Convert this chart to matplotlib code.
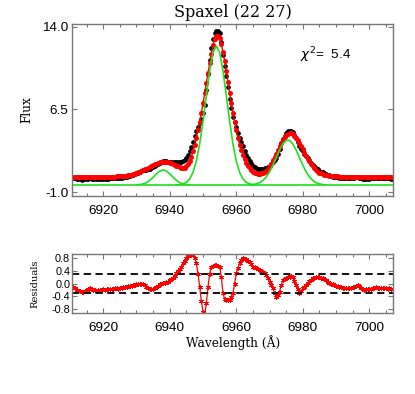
import numpy as np
import matplotlib
matplotlib.use('Agg')
import matplotlib.pyplot as plt
from matplotlib.ticker import FixedLocator, MultipleLocator

# wavelength grid (Angstrom), 0.5 A sampling
WAVE = np.arange(6911, 7007.5, 0.5)

# observed flux (black dots), two samples per line: x.0, x.5
FLUX_OBS = [
	0.31, 0.26,  0.21, 0.18,  0.17, 0.15,  0.16, 0.19,  0.21, 0.24,  # 6911-6915
	0.26, 0.24,  0.22, 0.20,  0.19, 0.20,  0.21, 0.22,  0.23, 0.22,  # 6916-6920
	0.23, 0.24,  0.25, 0.25,  0.26, 0.27,  0.28, 0.27,  0.30, 0.32,  # 6921-6925
	0.34, 0.36,  0.40, 0.44,  0.48, 0.53,  0.59, 0.65,  0.72, 0.79,  # 6926-6930
	0.86, 0.93,  0.98, 1.02,  1.04, 1.08,  1.13, 1.19,  1.28, 1.38,  # 6931-6935
	1.48, 1.58,  1.68, 1.75,  1.79, 1.80,  1.81, 1.77,  1.78, 1.75,  # 6936-6940
	1.74, 1.73,  1.73, 1.73,  1.73, 1.74,  1.80, 1.92,  2.13, 2.39,  # 6941-6945
	2.73, 3.11,  3.58, 4.08,  4.57, 4.95,  5.30, 5.65,  6.17, 6.95,  # 6946-6950
	8.30, 9.72,  11.00, 12.05,  12.85, 13.42,  13.62, 13.65,  13.40, 12.65,  # 6951-6955
	11.40, 10.42,  9.49, 8.50,  7.49, 6.63,  5.85, 5.35,  4.91, 4.40,  # 6956-6960
	3.92, 3.54,  3.18, 2.76,  2.40, 2.10,  1.87, 1.61,  1.37, 1.27,  # 6961-6965
	1.19, 1.14,  1.10, 1.10,  1.12, 1.17,  1.23, 1.30,  1.41, 1.55,  # 6966-6970
	1.75, 1.92,  2.09, 2.46,  2.90, 3.42,  3.86, 4.14,  4.36, 4.51,  # 6971-6975
	4.58, 4.58,  4.45, 4.20,  3.90, 3.55,  3.17, 2.94,  2.75, 2.50,  # 6976-6980
	2.26, 2.06,  1.88, 1.68,  1.51, 1.34,  1.20, 1.08,  0.97, 0.88,  # 6981-6985
	0.80, 0.72,  0.65, 0.58,  0.52, 0.47,  0.42, 0.39,  0.36, 0.34,  # 6986-6990
	0.32, 0.30,  0.29, 0.27,  0.26, 0.27,  0.27, 0.28,  0.29, 0.31,  # 6991-6995
	0.34, 0.36,  0.33, 0.27,  0.23, 0.22,  0.23, 0.24,  0.23, 0.25,  # 6996-7000
	0.26, 0.28,  0.29, 0.28,  0.27, 0.26,  0.26, 0.27,  0.26, 0.25,  # 7001-7005
	0.26, 0.24,  0.23,  # 7006-7007
]

# total fit (red dots)
FLUX_FIT = [
	0.41, 0.41,  0.41, 0.41,  0.41, 0.41,  0.41, 0.41,  0.41, 0.41,  # 6911-6915
	0.41, 0.41,  0.41, 0.41,  0.41, 0.41,  0.41, 0.41,  0.41, 0.41,  # 6916-6920
	0.41, 0.41,  0.42, 0.42,  0.42, 0.42,  0.43, 0.43,  0.44, 0.45,  # 6921-6925
	0.46, 0.48,  0.50, 0.53,  0.56, 0.60,  0.64, 0.69,  0.74, 0.80,  # 6926-6930
	0.86, 0.93,  1.00, 1.07,  1.14, 1.21,  1.29, 1.37,  1.45, 1.53,  # 6931-6935
	1.60, 1.66,  1.71, 1.75,  1.77, 1.77,  1.75, 1.72,  1.68, 1.62,  # 6936-6940
	1.56, 1.49,  1.42, 1.35,  1.28, 1.22,  1.18, 1.22,  1.35, 1.55,  # 6941-6945
	1.85, 2.22,  2.70, 3.28,  3.95, 4.65,  5.40, 6.20,  7.05, 7.95,  # 6946-6950
	8.90, 9.82,  10.70, 11.55,  12.30, 12.85,  13.15, 13.15,  12.95, 12.45,  # 6951-6955
	11.70, 10.90,  10.00, 9.00,  8.00, 7.05,  6.15, 5.35,  4.60, 3.92,  # 6956-6960
	3.30, 2.82,  2.40, 1.99,  1.65, 1.40,  1.20, 1.01,  0.85, 0.77,  # 6961-6965
	0.72, 0.69,  0.68, 0.70,  0.76, 0.85,  0.97, 1.14,  1.35, 1.60,  # 6966-6970
	1.90, 2.20,  2.50, 2.82,  3.15, 3.47,  3.75, 4.00,  4.20, 4.32,  # 6971-6975
	4.37, 4.34,  4.25, 4.12,  3.95, 3.72,  3.45, 3.18,  2.90, 2.60,  # 6976-6980
	2.30, 2.04,  1.80, 1.56,  1.35, 1.16,  1.00, 0.88,  0.78, 0.70,  # 6981-6985
	0.64, 0.59,  0.55, 0.52,  0.49, 0.47,  0.45, 0.44,  0.43, 0.43,  # 6986-6990
	0.42, 0.42,  0.42, 0.41,  0.41, 0.41,  0.41, 0.41,  0.41, 0.41,  # 6991-6995
	0.41, 0.41,  0.41, 0.41,  0.41, 0.41,  0.41, 0.41,  0.41, 0.41,  # 6996-7000
	0.41, 0.41,  0.41, 0.41,  0.41, 0.41,  0.41, 0.41,  0.41, 0.41,  # 7001-7005
	0.41, 0.41,  0.41,  # 7006-7007
]

# residuals (bottom panel)
RESID = [
	-0.10, -0.15,  -0.20, -0.23,  -0.24, -0.26,  -0.25, -0.22,  -0.20, -0.17,  # 6911-6915
	-0.15, -0.17,  -0.19, -0.21,  -0.22, -0.21,  -0.20, -0.19,  -0.18, -0.19,  # 6916-6920
	-0.18, -0.17,  -0.17, -0.17,  -0.16, -0.15,  -0.15, -0.16,  -0.14, -0.13,  # 6921-6925
	-0.12, -0.12,  -0.10, -0.09,  -0.08, -0.07,  -0.05, -0.04,  -0.02, -0.01,  # 6926-6930
	0.00, 0.00,  -0.02, -0.05,  -0.10, -0.13,  -0.16, -0.18,  -0.17, -0.15,  # 6931-6935
	-0.12, -0.08,  -0.03, 0.00,  0.02, 0.03,  0.06, 0.05,  0.10, 0.13,  # 6936-6940
	0.18, 0.24,  0.31, 0.38,  0.45, 0.52,  0.62, 0.70,  0.78, 0.84,  # 6941-6945
	0.88, 0.89,  0.88, 0.80,  0.62, 0.30,  -0.10, -0.55,  -0.88, -1.00,  # 6946-6950
	-0.60, -0.10,  0.30, 0.50,  0.55, 0.57,  0.57, 0.55,  0.52, 0.20,  # 6951-6955
	-0.30, -0.48,  -0.51, -0.50,  -0.51, -0.42,  -0.30, 0.00,  0.31, 0.48,  # 6956-6960
	0.62, 0.72,  0.78, 0.77,  0.75, 0.70,  0.67, 0.60,  0.52, 0.50,  # 6961-6965
	0.47, 0.45,  0.42, 0.40,  0.36, 0.32,  0.26, 0.16,  0.06, -0.05,  # 6966-6970
	-0.15, -0.28,  -0.41, -0.36,  -0.25, -0.05,  0.11, 0.14,  0.16, 0.19,  # 6971-6975
	0.21, 0.24,  0.20, 0.08,  -0.05, -0.17,  -0.28, -0.24,  -0.15, -0.10,  # 6976-6980
	-0.04, 0.02,  0.08, 0.12,  0.16, 0.18,  0.20, 0.20,  0.19, 0.18,  # 6981-6985
	0.16, 0.13,  0.10, 0.06,  0.03, 0.00,  -0.03, -0.05,  -0.07, -0.09,  # 6986-6990
	-0.10, -0.12,  -0.13, -0.14,  -0.15, -0.14,  -0.14, -0.13,  -0.12, -0.10,  # 6991-6995
	-0.07, -0.05,  -0.08, -0.14,  -0.18, -0.19,  -0.18, -0.17,  -0.18, -0.16,  # 6996-7000
	-0.15, -0.13,  -0.12, -0.13,  -0.14, -0.15,  -0.15, -0.14,  -0.15, -0.16,  # 7001-7005
	-0.15, -0.17,  -0.18,  # 7006-7007
]

# single gaussian components (green)
GREEN_BASE = -0.34
COMP1_WAVE = np.arange(6930, 6947, 1.0)
COMP1 = [-0.33, -0.30, -0.25, -0.13, 0.08, 0.36, 0.67, 0.92, 1.02,
	0.92, 0.67, 0.36, 0.08, -0.13, -0.25, -0.30, -0.33]
COMP2_WAVE = np.arange(6942, 6967, 1.0)
COMP2 = [-0.33, -0.31, -0.24, -0.10, 0.21, 0.81, 1.83, 3.38, 5.43, 7.78,
	10.03, 11.66, 12.26, 11.66, 10.03, 7.78, 5.43, 3.38, 1.83, 0.81,
	0.21, -0.10, -0.24, -0.31, -0.33]
COMP3_WAVE = np.arange(6964, 6988, 1.0)
COMP3 = [-0.32, -0.30, -0.24, -0.13, 0.07, 0.39, 0.85, 1.45, 2.13, 2.82,
	3.38, 3.70, 3.70, 3.38, 2.82, 2.13, 1.45, 0.85, 0.39, 0.07,
	-0.13, -0.24, -0.30, -0.32]

CHI2 = 5.4
RESID_LIMIT = 0.3
SPAXEL = (22, 27)

XLIM = (6910.7, 7007.2)
GREEN = '#1ee01e'
FRAME = '#777777'
SANS = 'Liberation Sans'
SERIF = 'DejaVu Serif'


def style_axes(ax, labelsize, ypad):
	for sp in ax.spines.values():
		sp.set_color(FRAME)
		sp.set_linewidth(1.0)
	ax.set_xlim(*XLIM)
	ax.xaxis.set_major_locator(MultipleLocator(20))
	ax.xaxis.set_minor_locator(MultipleLocator(5))
	ax.tick_params(which='both', direction='in', top=True, right=True,
		color=FRAME, width=0.8)
	ax.tick_params(which='major', length=3.5)
	ax.tick_params(which='minor', length=2)
	ax.tick_params(axis='x', labelsize=9.7, pad=6.5)
	ax.tick_params(axis='y', labelsize=labelsize, pad=ypad)
	for lab in ax.get_xticklabels() + ax.get_yticklabels():
		lab.set_fontfamily(SANS)


def make_plot():
	fig = plt.figure(figsize=(4.15, 3.94), dpi=100)
	ax = fig.add_axes([0.1742, 0.5025, 0.7735, 0.4365])
	ar = fig.add_axes([0.1742, 0.2063, 0.7735, 0.1483])

	# top: spectrum + fit
	ax.plot(WAVE, FLUX_OBS, 'o', color='black', ms=3.4, mew=0)
	ax.plot(WAVE, FLUX_FIT, '-o', color='red', lw=1.0, ms=3.6, mew=0)
	ax.axhline(GREEN_BASE, color=GREEN, lw=1.2)
	ax.plot(COMP1_WAVE, COMP1, color=GREEN, lw=1.2)
	ax.plot(COMP2_WAVE, COMP2, color=GREEN, lw=1.2)
	ax.plot(COMP3_WAVE, COMP3, color=GREEN, lw=1.2)
	ax.set_ylim(-1.34, 14.24)
	ax.yaxis.set_major_locator(FixedLocator([-1.0, 6.5, 14.0]))
	ax.yaxis.set_major_formatter(plt.FormatStrFormatter('%.1f'))
	style_axes(ax, 9.7, 3)
	ax.text(0.71, 0.82, r'$\chi^2$=  %.1f' % CHI2, transform=ax.transAxes,
		fontsize=9.7, family=SANS, va='center', ha='left')

	# bottom: residuals
	ar.plot(WAVE, RESID, '-', color='red', lw=0.9, marker=(6, 2, 0),
		ms=3.5, mew=0.6)
	ar.axhline(RESID_LIMIT, color='black', lw=1.3, ls=(0, (4, 2.5)))
	ar.axhline(-RESID_LIMIT, color='black', lw=1.3, ls=(0, (4, 2.5)))
	ar.set_ylim(-0.9, 0.9)
	ar.yaxis.set_major_locator(FixedLocator([-0.8, -0.4, 0.0, 0.4, 0.8]))
	ar.yaxis.set_major_formatter(plt.FormatStrFormatter('%.1f'))
	style_axes(ar, 7.8, 1.5)

	fig.text(0.561, 0.9695, 'Spaxel (%d %d)' % SPAXEL, family=SERIF,
		fontsize=11.5, ha='center', va='center')
	fig.text(0.065, 0.7208, 'Flux', family=SERIF, fontsize=8.7,
		rotation=90, ha='center', va='center')
	fig.text(0.0843, 0.279, 'Residuals', family=SERIF, fontsize=7.1,
		rotation=90, ha='center', va='center')
	fig.text(0.561, 0.130, 'Wavelength (Å)', family=SERIF, fontsize=8.7,
		ha='center', va='center')

	fig.savefig('out.png', dpi=100)


if __name__ == '__main__':
	make_plot()
